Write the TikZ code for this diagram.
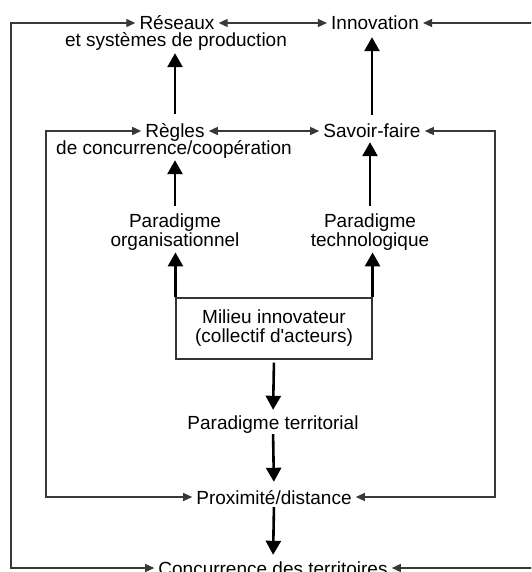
\documentclass[tikz,border=0pt]{standalone}
\usepackage{fontspec}
\newfontfamily\labelfont{Liberation Sans}
\usetikzlibrary{arrows.meta}
\begin{document}
\begin{tikzpicture}[x=1pt,y=-1pt,
  lbl/.style={anchor=base, inner xsep=4pt, inner ysep=0pt,
    text height=14pt, text depth=0pt,
    font=\labelfont\fontsize{19}{18}\selectfont},
  pairlbl/.style={align=center, inner sep=0pt,
    font=\labelfont\fontsize{19}{17}\selectfont},
  boxlbl/.style={draw=black!80, line width=1.1pt, align=center,
    minimum width=196pt, minimum height=61pt, inner sep=0pt,
    font=\labelfont\fontsize{19}{19}\selectfont},
  bigarrow/.style={line width=2.6pt, -{Triangle[length=14pt,width=15pt]}},
  linkarrow/.style={line width=1.3pt, draw=black!78,
    {Triangle[length=9pt,width=8pt]}-{Triangle[length=9pt,width=8pt]}}]

\clip (0,0) rectangle (531,572);
\useasboundingbox (0,0) rectangle (531,572);

% top row
\node[lbl] (reseaux)  at (177,30) {Réseaux};
\node[lbl] (reseauxb) at (176,47) {et systèmes de production};
\node[lbl] (innov)    at (375,30) {Innovation};

% second row
\node[lbl] (regles)  at (175,138) {Règles};
\node[lbl] (reglesb) at (174,155) {de concurrence/coopération};
\node[lbl] (savoir)  at (372,138) {Savoir-faire};

% paradigms
\node[pairlbl] (parorg)  at (175,232) {Paradigme\\organisationnel};
\node[pairlbl] (partech) at (370,232) {Paradigme\\technologique};

% milieu
\node[boxlbl] (milieu) at (274,328.5) {Milieu innovateur\\(collectif d'acteurs)};

% lower column
\node[lbl] (parterr) at (273,429) {Paradigme territorial};
\node[lbl] (prox)    at (274,504) {Proximité/distance};
\node[lbl] (concur)  at (273,575) {Concurrence des territoires};

% loop rails
\coordinate (ol) at (11,0);
\coordinate (il) at (46,0);
\coordinate (ir) at (495,0);
\coordinate (or) at (545,0);

% thick arrows
\draw[bigarrow, shorten <=10pt, shorten >=6pt] (regles.north) -- (regles.north |- reseauxb.south);
\draw[bigarrow, shorten <=8pt, shorten >=5pt] (parorg.north) -- (parorg.north |- reglesb.south);
\draw[bigarrow, shorten >=2pt] (milieu.north west) -- (milieu.north west |- parorg.south);
\draw[bigarrow, shorten <=9pt, shorten >=7pt] (savoir.north) -- (savoir.north |- innov.south);
\draw[bigarrow, shorten <=8pt, shorten >=4pt] (partech.north) -- (partech.north |- savoir.south);
\draw[bigarrow, shorten >=2pt] (milieu.north east) -- (milieu.north east |- partech.south);
\draw[bigarrow, shorten <=3pt, shorten >=5pt] (milieu.south) -- (parterr.north);
\draw[bigarrow, shorten <=5pt, shorten >=8pt] (parterr.south) -- (prox.north);
\draw[bigarrow, shorten <=3pt, shorten >=6pt] (prox.south) -- (concur.north);

% horizontal links
\draw[linkarrow] (reseaux.east) -- (innov.west);
\draw[linkarrow] (regles.east) -- (savoir.west);

% outer loop
\draw[linkarrow] (reseaux.west) -- (reseaux.west -| ol)
  -- (concur.west -| ol) -- (concur.west);
\draw[linkarrow] (innov.east) -- (innov.east -| or)
  -- (concur.east -| or) -- (concur.east);

% inner loop
\draw[linkarrow] (regles.west) -- (regles.west -| il)
  -- (prox.west -| il) -- (prox.west);
\draw[linkarrow] (savoir.east) -- (savoir.east -| ir)
  -- (prox.east -| ir) -- (prox.east);
\end{tikzpicture}
\end{document}
